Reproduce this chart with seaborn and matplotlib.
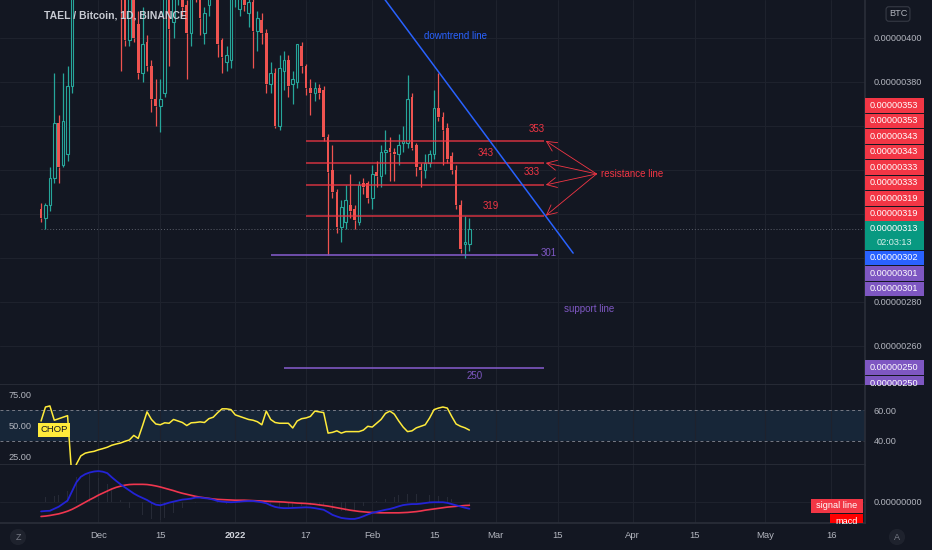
import matplotlib
matplotlib.use("Agg")
import matplotlib.pyplot as plt
import matplotlib.dates as mdates
from matplotlib.patches import Rectangle
from matplotlib.transforms import IdentityTransform
import seaborn as sns
import pandas as pd
import numpy as np
from datetime import datetime

# --- colours (TradingView dark) ---
BG = "#131722"
GRID = "#1e222d"
TXT = "#b2b5be"
UP = "#26a69a"
DOWN = "#ef5350"
RED = "#f23645"
PURPLE = "#7e57c2"
BLUE = "#2962ff"
YELLOW = "#ffeb3b"

# --- daily candles TAEL/BTC, prices in satoshi (1e-8 BTC), from 2021-11-18 ---
first_day = datetime(2021, 11, 18)
opens = [322, 318, 324, 336, 361, 342, 347, 378, 440, 465,
         455, 445, 458, 450, 460, 452, 444, 448, 438, 423,
         399, 420, 406, 384, 398, 387, 372, 369, 375, 424,
         407, 420, 428, 415, 402, 428, 420, 402, 415, 424,
         428, 399, 389, 390, 420, 413, 425, 411, 416, 403,
         408, 402, 379, 384, 360, 385, 390, 379, 380, 396,
         387, 377, 375, 377, 376, 355, 340, 330, 314, 316,
         324, 322, 316, 334, 334, 327, 339, 337, 348, 350,
         348, 347, 352, 352, 373, 351, 341, 340, 343, 347,
         368, 364, 359, 346, 340, 324, 306, 306]
highs = [325, 325, 341, 384, 365, 384, 387, 455, 475, 480,
         470, 462, 470, 466, 472, 463, 456, 452, 448, 428,
         430, 425, 412, 414, 401, 390, 381, 381, 430, 430,
         426, 433, 432, 417, 426, 432, 423, 414, 430, 438,
         434, 400, 396, 425, 432, 428, 428, 420, 418, 412,
         411, 404, 389, 386, 392, 394, 392, 385, 397, 398,
         388, 381, 380, 379, 378, 356, 351, 331, 326, 333,
         338, 324, 335, 336, 335, 342, 344, 351, 358, 355,
         350, 356, 360, 383, 375, 352, 343, 347, 349, 376,
         384, 366, 361, 348, 342, 326, 319, 318]
lows = [316, 313, 321, 334, 334, 341, 344, 375, 432, 450,
        440, 436, 446, 442, 448, 440, 432, 430, 385, 396,
        396, 398, 381, 380, 385, 366, 360, 357, 373, 387,
        400, 415, 410, 381, 396, 416, 401, 397, 410, 420,
        391, 384, 385, 386, 414, 410, 412, 405, 386, 394,
        397, 375, 375, 359, 358, 376, 373, 370, 377, 384,
        374, 365, 371, 372, 353, 301, 327, 311, 307, 313,
        318, 313, 315, 329, 325, 322, 332, 332, 338, 335,
        335, 342, 348, 350, 349, 337, 332, 336, 341, 345,
        362, 342, 343, 338, 322, 302, 300, 303]
closes = [318, 324, 336, 361, 341, 362, 378, 440, 465, 455,
          445, 458, 450, 460, 452, 444, 448, 438, 422, 399,
          420, 400, 384, 397, 387, 372, 369, 372, 424, 404,
          420, 428, 414, 402, 420, 420, 409, 411, 424, 432,
          397, 391, 392, 420, 426, 422, 415, 416, 403, 409,
          402, 379, 384, 360, 386, 390, 378, 381, 397, 387,
          377, 375, 377, 375, 355, 339, 330, 314, 323, 326,
          321, 317, 333, 332, 327, 338, 337, 348, 349, 348,
          347, 351, 353, 372, 350, 341, 340, 343, 347, 368,
          364, 358, 345, 340, 324, 304, 307, 313]

# --- Choppiness index ---
chop = [53, 62.2, 62.9, 53.5, 54.5, 55.5, 56.5, 15, 24.5, 30,
        31.8, 32.5, 33, 34, 34.8, 35.7, 37, 37.8, 38.5, 39.6,
        40.5, 43.5, 41.5, 50, 59, 54, 51, 50.5, 51.8, 51.5,
        54, 53, 52, 50, 51.8, 52, 52.4, 52, 54.5, 55.5,
        58.5, 61, 61, 60.5, 57, 56, 55, 54, 53.5, 52.5,
        50.5, 59.5, 54, 52, 51.5, 51.5, 51.5, 48.4, 53, 54.5,
        55, 56, 59.5, 59, 58.5, 45, 45.5, 46.5, 45, 46,
        46, 46, 46, 47, 49.5, 49, 51.5, 54, 58, 59.5,
        57.5, 53, 49, 46, 46.5, 48.5, 49.5, 50.5, 55, 60.5,
        61.5, 62.2, 61.5, 56, 51, 49.5, 48.5, 47]

# --- MACD (satoshi) ---
macd = [-4.8, -4.6, -4.5, -3.5, -2.5, -1.0, 0.5, 5, 9.5, 12.2,
        13.5, 14.3, 14.8, 15, 14.7, 14, 12, 10.2, 8.5, 7,
        5.5, 4, 2.8, 1.8, 0.8, -0.5, -1.5, -1.8, -1.2, -0.5,
        0, 0.5, 1, 1.2, 1.5, 2, 2, 1.7, 1.5, 1,
        0.3, 0, -0.2, -0.3, -0.2, 0, 0.2, 0.3, 0.3, 0,
        -0.3, -0.8, -1.8, -2.6, -3, -3.2, -3.2, -3.1, -3, -2.9,
        -2.8, -2.9, -3.2, -3.6, -4, -5.2, -6.5, -7.3, -8, -8.3,
        -8.5, -8.5, -8, -7.2, -6.3, -5.5, -5, -4.5, -4, -3.6,
        -3, -2.3, -1.7, -1.4, -1.2, -1.2, -1.0, -0.7, -0.4, -0.3,
        -0.3, -0.3, -0.6, -1.2, -1.8, -2.4, -3, -3.5]
signal = [-7.3, -7.1, -6.8, -6.4, -6, -5.4, -4.7, -3.8, -2.7, -1.5,
          -0.3, 0.9, 2.0, 3.2, 4.2, 5.2, 6.2, 7, 7.6, 8.1,
          8.4, 8.5, 8.5, 8.5, 8.4, 8.1, 7.7, 7.2, 6.6, 6,
          5.4, 4.7, 4.1, 3.6, 3.1, 2.6, 2.2, 1.9, 1.6, 1.3,
          1.1, 1.0, 0.9, 0.8, 0.7, 0.7, 0.7, 0.6, 0.5, 0.4,
          0.3, 0.2, 0.1, 0, -0.1, -0.2, -0.4, -0.5, -0.7, -0.8,
          -0.9, -1.1, -1.3, -1.6, -1.9, -2.2, -2.6, -3, -3.4, -3.8,
          -4.2, -4.5, -4.8, -5, -5.2, -5.3, -5.4, -5.5, -5.5, -5.5,
          -5.5, -5.5, -5.4, -5.3, -5.1, -4.9, -4.6, -4.2, -3.9, -3.6,
          -3.3, -3, -2.7, -2.5, -2.3, -2.1, -1.9, -1.8]

# --- drawings ---
resist_levels = [353, 343, 333, 319]
resist_span = (datetime(2022, 1, 17), datetime(2022, 3, 12))
support_levels = [301, 250]
support_spans = [(datetime(2022, 1, 9), datetime(2022, 3, 10, 12)),
                 (datetime(2022, 1, 12), datetime(2022, 3, 12))]
trend_dates = [datetime(2022, 2, 1), datetime(2022, 3, 18, 12)]
trend_prices = [425, 302]
last_price = 313
countdown = "02:03:13"

tick_dates = [datetime(2021, 12, 1), datetime(2021, 12, 15), datetime(2022, 1, 1),
              datetime(2022, 1, 17), datetime(2022, 2, 1), datetime(2022, 2, 15),
              datetime(2022, 3, 1), datetime(2022, 3, 15), datetime(2022, 4, 1),
              datetime(2022, 4, 15), datetime(2022, 5, 1), datetime(2022, 5, 16)]
tick_labels = ["Dec", "15", "2022", "17", "Feb", "15", "Mar", "15", "Apr", "15", "May", "16"]
price_ticks = [260, 280, 300, 320, 340, 360, 380, 400]

dates = pd.date_range(first_day, periods=len(opens), freq="D")
df = pd.DataFrame({"date": dates, "open": opens, "high": highs, "low": lows,
                   "close": closes, "chop": chop, "macd": macd, "signal": signal})

sns.set_theme(style="dark", rc={"axes.facecolor": BG, "figure.facecolor": BG,
                                "axes.edgecolor": "#2a2e39", "text.color": TXT,
                                "xtick.color": TXT, "ytick.color": TXT,
                                "grid.color": GRID, "patch.edgecolor": "none"})
plt.rcParams['font.family'] = ['Liberation Sans', 'DejaVu Sans']

W, H = 932, 550
fig = plt.figure(figsize=(W / 100, H / 100), dpi=100)


def fx(px):
    return px / W


def fy(py):
    return 1 - py / H


ax = fig.add_axes([0, fy(385), fx(865), 385 / H])
ax2 = fig.add_axes([0, fy(465), fx(865), 80 / H], sharex=ax)
ax3 = fig.add_axes([0, fy(523), fx(865), 58 / H], sharex=ax)

dec1 = mdates.date2num(datetime(2021, 12, 1))
ax.set_xlim(dec1 - 22.3, dec1 + 173.6)
ax.set_ylim(242.05, 417.05)

for a in (ax, ax2, ax3):
    a.set_facecolor(BG)
    for s in ("left", "top"):
        a.spines[s].set_visible(False)
    a.spines["right"].set_color("#2a2e39")
    a.spines["bottom"].set_color("#2a2e39")
    a.set_xticks(mdates.date2num(tick_dates))
    a.grid(True, axis="x", color=GRID, lw=0.8)
    a.yaxis.tick_right()
    a.tick_params(axis="both", length=0, labelsize=6.6, colors=TXT)

# --- candles ---
x = mdates.date2num(df["date"].dt.to_pydatetime())
o, h, l, c = (df[k].to_numpy(float) for k in ("open", "high", "low", "close"))
up = c >= o
top, bot = np.maximum(o, c), np.minimum(o, c)
col = np.where(up, UP, DOWN)
ax.vlines(x, top, h, colors=col, lw=0.9, zorder=3)
ax.vlines(x, l, bot, colors=col, lw=0.9, zorder=3)
ht = np.maximum(top - bot, 0.9)
ax.bar(x[~up], ht[~up], bottom=bot[~up], width=0.62, color=DOWN, lw=0, zorder=4)
ax.bar(x[up], ht[up], bottom=bot[up], width=0.58, facecolor=BG, edgecolor=UP, lw=0.8, zorder=4)

ax.set_yticks(price_ticks)
ax.grid(True, axis="y", color=GRID, lw=0.8)
ax.tick_params(axis="y", pad=6)
ax.tick_params(axis="x", labelbottom=False)

ax.hlines(last_price, x[0], ax.get_xlim()[1], colors="#5d606b", lw=0.7,
          linestyles=(0, (1, 2)), zorder=2)

# resistance lines
r0, r1 = mdates.date2num(resist_span[0]), mdates.date2num(resist_span[1])
ax.hlines(resist_levels, r0, r1, colors=RED, lw=1.1, alpha=0.85, zorder=5)
label_pos = {353: (r1 - 1.7, 5.5), 343: (r1 - 13.3, 4.5), 333: (r1 - 2.9, 5.8), 319: (r1 - 12.2, 4.5)}
tip = (r1 + 11.8, 338)
for lev in resist_levels:
    dx, dy = label_pos[lev]
    ax.text(dx, lev + dy, str(lev), color=RED, fontsize=7, ha="center", va="center", zorder=6)
    ax.annotate("", xy=(r1 + 0.3, lev), xytext=tip,
                arrowprops=dict(arrowstyle="->,head_length=0.6,head_width=0.3",
                                color=RED, lw=0.6, shrinkA=0, shrinkB=0), zorder=6)
ax.text(tip[0] + 1.1, tip[1], "resistance line", color=RED, fontsize=7, va="center", zorder=6)

# support lines
for lev, (s0, s1) in zip(support_levels, support_spans):
    ax.hlines(lev, mdates.date2num(s0), mdates.date2num(s1), colors=PURPLE, lw=1.2, zorder=5)
ax.text(mdates.date2num(support_spans[0][1]) + 0.6, support_levels[0] + 1.0, str(support_levels[0]),
        color=PURPLE, fontsize=7, ha="left", va="center", zorder=6)
ax.text(dec1 + 85.1, support_levels[1] - 4, str(support_levels[1]),
        color=PURPLE, fontsize=7, ha="center", va="center", zorder=6)
ax.text(dec1 + 111.1, 276.6, "support line", color=PURPLE, fontsize=7, ha="center", va="center")

# downtrend line
ax.plot(mdates.date2num(trend_dates), trend_prices, color=BLUE, lw=1.1, zorder=5)
ax.text(dec1 + 80.8, 400.7, "downtrend line", color=BLUE, fontsize=7, ha="center", va="center")

# --- CHOP panel ---
ax2.set_ylim(24, 76.7)
ax2.axhspan(40, 60, color="#172638", lw=0, zorder=0)
for lev in (40, 60):
    ax2.axhline(lev, color="#787b86", lw=0.7, ls=(0, (3, 3)), zorder=1)
sns.lineplot(data=df, x="date", y="chop", ax=ax2, color=YELLOW, lw=1.1, zorder=3)
ax2.set_xlabel("")
ax2.set_ylabel("")

ax2l = ax2.twinx()
ax2l.set_ylim(18.5, 82.3)
ax2l.yaxis.tick_left()
ax2l.set_yticks([25, 50, 75])
ax2l.set_yticklabels(["25.00", "50.00", "75.00"])
ax2l.tick_params(axis="y", length=0, pad=-23, labelsize=6.6, colors=TXT)
for s in ax2l.spines.values():
    s.set_visible(False)
ax2l.grid(False)

# twinx moved ax2's ticks to the left; put them back on the right
ax2.yaxis.tick_right()
ax2.set_yticks([40, 60])
ax2.set_yticklabels(["40.00", "60.00"])
ax2.tick_params(axis="y", length=0, pad=6, labelsize=6.6, colors=TXT, labelleft=False, labelright=True)
ax2.tick_params(axis="x", labelbottom=False)

fig.text(fx(54), fy(430), "CHOP", color="#131722", fontsize=6.8, ha="center", va="center",
         bbox=dict(boxstyle="square,pad=0.25", fc=YELLOW, ec="none"))

# --- MACD panel ---
ax3.set_ylim(-10.5, 18)
ax3.bar(x, df["macd"] - df["signal"], width=0.12, color="#262a36", lw=0, zorder=1)
sns.lineplot(data=df, x="date", y="signal", ax=ax3, color="#f0364f", lw=1.2, zorder=3)
sns.lineplot(data=df, x="date", y="macd", ax=ax3, color="#2323d6", lw=1.3, zorder=4)
ax3.set_yticks([0])
ax3.set_yticklabels(["0.00000000"])
ax3.grid(True, axis="y", color=GRID, lw=0.8)
ax3.tick_params(axis="y", pad=6)
ax3.set_xlabel("")
ax3.set_ylabel("")
ax3.set_xticks(mdates.date2num(tick_dates))
ax3.set_xticklabels(tick_labels)
ax3.tick_params(axis="x", pad=6, labelsize=6.8)
ax3.get_xticklabels()[2].set_fontweight("bold")
ax3.get_xticklabels()[2].set_color("#d1d4dc")

ident = IdentityTransform()
for txt, x0, x1, yc, fc in (("signal line", 811, 863, H - 506, RED), ("macd", 830, 863, H - 521, "#ff0000")):
    ax3.add_patch(Rectangle((x0, yc - 7), x1 - x0, 14, transform=ident, fc=fc, ec="none", zorder=6))
    ax3.text((x0 + x1) / 2, yc, txt, transform=ident, color="white", fontsize=6.6,
             ha="center", va="center", zorder=7)

# --- price-scale labels (stacked like TradingView) ---
axs = fig.add_axes([fx(865), fy(385), fx(67), 385 / H])
axs.set_axis_off()
axs.patch.set_alpha(0)


def ypix(p):
    return ax.transData.transform((0, p))[1]


RH = 15.5
BX0, BX1 = 864, 924
cur = ypix(last_price)
g_top, g_bot = cur + 7.5, cur - 21
rows = []
limit = g_top
for p in sorted(l2 for l2 in resist_levels for _ in range(2)):
    yc = max(ypix(p), limit + RH / 2)
    limit = yc + RH / 2
    rows.append((p, yc, RED))
limit = g_bot
for p, colr in [(trend_prices[1], BLUE)] + [(s, PURPLE) for s in support_levels for _ in range(2)]:
    yc = min(ypix(p), limit - RH / 2)
    limit = yc - RH / 2
    rows.append((p, yc, colr))

# hide the scale ticks that sit under a label box
spans = [(yc - RH / 2, yc + RH / 2) for _, yc, _ in rows] + [(g_bot, g_top)]
tick_text = []
for p in price_ticks:
    yp = ypix(p)
    covered = any(a0 < yp < a1 for a0, a1 in spans)
    tick_text.append("" if covered else f"{p * 1e-8:.8f}")
ax.set_yticklabels(tick_text)

for p, yc, colr in rows:
    axs.add_patch(Rectangle((BX0, yc - RH / 2), BX1 - BX0, RH - 0.6, transform=ident,
                            fc=colr, ec="none", zorder=5))
    axs.text((BX0 + BX1) / 2, yc, f"{p * 1e-8:.8f}", transform=ident, color="white",
             fontsize=6.6, ha="center", va="center", zorder=6)
axs.add_patch(Rectangle((BX0, g_bot), BX1 - BX0, g_top - g_bot, transform=ident,
                        fc="#089981", ec="none", zorder=5))
axs.text((BX0 + BX1) / 2, cur, f"{last_price * 1e-8:.8f}", transform=ident, color="white",
         fontsize=6.6, ha="center", va="center", zorder=6)
axs.text((BX0 + BX1) / 2, cur - 14, countdown, transform=ident, color="#d8f0ec",
         fontsize=6.6, ha="center", va="center", zorder=6)

fig.text(fx(898), fy(14), "BTC", color=TXT, fontsize=6.6, ha="center", va="center",
         bbox=dict(boxstyle="round,pad=0.3", fc=BG, ec="#363a45", lw=0.8))
fig.text(fx(44), fy(15), "TAEL / Bitcoin, 1D, BINANCE", color="#c8cbd3", fontsize=7.5,
         weight="bold", va="center")
for letter, px in (("Z", 18), ("A", 897)):
    fig.text(fx(px), fy(537), letter, color="#787b86", fontsize=6.5, ha="center", va="center",
             bbox=dict(boxstyle="circle,pad=0.4", fc="#1e222d", ec="none"))

fig.savefig("out.png", dpi=100, facecolor=BG)
